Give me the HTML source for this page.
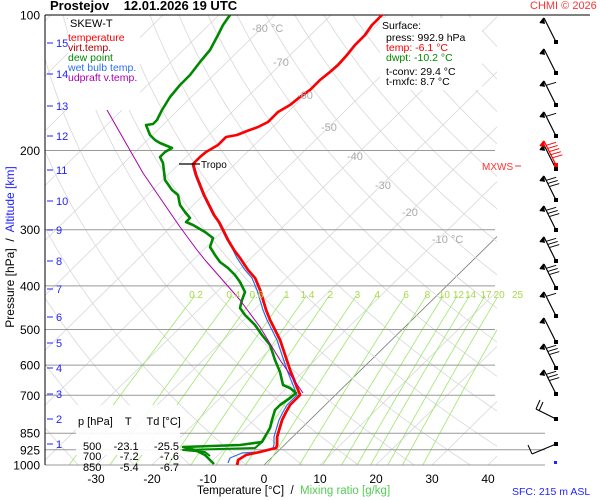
<!DOCTYPE html>
<html><head><meta charset="utf-8">
<style>
html,body{margin:0;padding:0;background:#fff;}
svg{display:block;font-family:"Liberation Sans",sans-serif;}
</style></head>
<body>
<svg id="s" width="600" height="500" viewBox="0 0 600 500" xmlns="http://www.w3.org/2000/svg">
<rect width="600" height="500" fill="#fff"/>
<defs><clipPath id="pc"><rect x="45" y="15" width="452" height="450"/></clipPath></defs>
<g id="grid" clip-path="url(#pc)"></g>
<g id="hl"></g>
<g id="data"></g>
<g id="txt"></g>
</svg>
<script>
const NS="http://www.w3.org/2000/svg";
const S=1.02;
function Y(p){return 15+450*Math.log10(p/100);}
function X(T,y){return 264+5.6*T+(465-y)*S;}
function el(tag,a,parent,text){const e=document.createElementNS(NS,tag);for(const k in a)e.setAttribute(k,a[k]);if(text!==undefined)e.textContent=text;(parent||document.getElementById('s')).appendChild(e);return e;}
const G=document.getElementById('grid'),H=document.getElementById('hl'),D=document.getElementById('data'),TX=document.getElementById('txt');
for(let T=-160;T<=50;T+=10){
  el('line',{x1:X(T,465),y1:465,x2:X(T,15),y2:15,stroke:T==0?'#777':'#d8d8d8','stroke-width':0.8},G);
}
for(let th=200;th<=520;th+=10){
  let pts=[];for(let p=1000;p>=100;p-=10){const T=th*Math.pow(p/1000,0.286)-273.15;const y=Y(p);pts.push(X(T,y).toFixed(1)+','+y.toFixed(1));}
  el('polyline',{points:pts.join(' '),fill:'none',stroke:'#d8d8d8','stroke-width':0.8},G);
}
const ws=[0.2,0.4,0.6,1,1.4,2,3,4,6,8,10,12,14,17,20,25];
ws.forEach(w=>{let pts=[];for(let p=1000;p>=420;p-=10){const e=w*p/(622+w);const l=Math.log(e/6.112);const T=243.5*l/(17.67-l);const y=Y(p);pts.push(X(T,y).toFixed(1)+','+y.toFixed(1));}
  el('polyline',{points:pts.join(' '),fill:'none',stroke:'#9be86a','stroke-width':0.8},G);
  const e=w*417/(622+w);const l=Math.log(e/6.112);const T=243.5*l/(17.67-l);
  el('text',{x:X(T,294),y:298,fill:'#a8d84a','font-size':10,'text-anchor':'middle'},TX,String(w));
});
[100,200,300,400,500,600,700,850,925,1000].forEach(p=>{const y=Y(p);
  if(p==100){el('line',{x1:45,y1:15,x2:590,y2:15,stroke:'#000','stroke-width':1},H);}
  else el('line',{x1:45,y1:y,x2:(p>=850?545:495),y2:y,stroke:'#999','stroke-width':1},H);
  el('text',{x:40,y:y+4.5,'text-anchor':'end','font-size':12,fill:'#000'},TX,String(p));
});
el('line',{x1:45,y1:15,x2:45,y2:465,stroke:'#000','stroke-width':1},H);
[[15,43],[14,74],[13,106],[12,136],[11,170],[10,201],[9,230],[8,261],[7,289],[6,317],[5,343],[4,368],[3,394],[2,419],[1,444]].forEach(a=>{
  el('line',{x1:47,y1:a[1],x2:53,y2:a[1],stroke:'#22f','stroke-width':1},TX);
  el('text',{x:56,y:a[1]+4,fill:'#22f','font-size':11},TX,String(a[0]));
});
[['-80 °C',252,32],['-70',273,66],['-60',297,99],['-50',321,131],['-40',347,160],['-30',375,189],['-20',402,216],['-10 °C',432,243]].forEach(t=>el('text',{x:t[1],y:t[2],fill:'#aaa','font-size':11},TX,t[0]));
[-30,-20,-10,0,10,20,30,40].forEach(T=>el('text',{x:264+5.6*T,y:483,'text-anchor':'middle','font-size':12},TX,String(T)));
function pl(pts,col,w){el('polyline',{points:pts.map(p=>p.join(',')).join(' '),fill:'none',stroke:col,'stroke-width':w,'stroke-linejoin':'round'},D);}
const red=[[382,15],[372,25],[365,35],[355,45],[347,55],[338,65],[330,72],[320,80],[310,90],[300,97],[290,105],[278,112],[268,122],[258,127],[247,131],[237,135],[226,137],[218,145],[206,152],[200,157],[193,164],[196,175],[200,185],[204,195],[209,205],[214,215],[219,222],[223,230],[228,240],[234,250],[240,258],[248,270],[255,278],[260,290],[263,300],[266,310],[270,320],[275,330],[280,340],[285,355],[290,370],[296,385],[300,395],[295,400],[290,405],[286,412],[282,420],[279,430],[277,437],[277,445],[276,448],[260,452],[246,455],[238,460],[237,465]];
const blue=red.map(p=>p[1]>250?[p[0]-3,p[1]]:[p[0]-1,p[1]]);
blue[blue.length-1]=[228,463];blue[blue.length-2]=[230,458];blue[blue.length-3]=[242,453];
pl(blue,'#2a6ef0',1.2);
pl(red.map(p=>[p[0]+1,p[1]]),'#a00',1);
pl(red,'#f00',2.6);
const dew=[[230,15],[223,25],[218,35],[210,50],[200,62],[190,75],[180,85],[170,97],[162,110],[157,120],[153,124],[146,125],[150,135],[155,140],[160,143],[172,148],[165,152],[160,157],[163,163],[165,180],[172,190],[178,195],[180,205],[185,212],[190,218],[186,222],[193,225],[205,232],[213,238],[210,247],[215,255],[220,262],[228,268],[235,275],[240,282],[245,292],[242,300],[240,308],[245,315],[255,325],[262,335],[270,345],[275,360],[280,372],[283,385],[290,388],[296,393],[290,398],[280,405],[275,410],[272,420],[270,428],[266,435],[262,442],[240,445],[183,447],[195,450],[205,455],[214,464]];
pl(dew,'#080',2.6);
pl([[262,442],[255,448],[183,450],[205,452],[210,456]],'#080',2);
pl([[68,18],[107,110],[143,173],[180,227],[197,250],[205,260],[240,300],[260,327],[280,360],[303,393]],'#a0a',1);
el('line',{x1:179,y1:164,x2:200,y2:164,stroke:'#000','stroke-width':1.2},D);
el('text',{x:201,y:168,'font-size':10},TX,'Tropo');
el('text',{x:482,y:170,'font-size':10,fill:'#f33'},TX,'MXWS');
el('line',{x1:515,y1:166,x2:521,y2:166,stroke:'#f33','stroke-width':1},TX);
function barb(y,col,n){
  const x0=556,x1=544,y1=y-24;
  el('line',{x1:x0,y1:y,x2:x1,y2:y1,stroke:col,'stroke-width':1.2},D);
  el('rect',{x:x0-2,y:y-2,width:4,height:4,fill:col},D);
  el('polygon',{points:`${x1},${y1} ${x1+1},${y1+6} ${x1-4},${y1+5}`,fill:col},D);
  el('line',{x1:x1,y1:y1,x2:x1-4,y2:y1+5,stroke:col,'stroke-width':1.5},D);
  for(let i=0;i<n;i++){const t=0.18+i*0.13;const bx=x1+(x0-x1)*t,by=y1+(y-y1)*t;el('line',{x1:bx,y1:by,x2:bx+10,y2:by-3,stroke:col,'stroke-width':1},D);}
}
[42,73,105,136].forEach((y,i)=>barb(y,'#000',i>=2?1:0));
barb(169,'#000',0);barb(165,'#f00',5);
[200,230,261,288].forEach(y=>barb(y,'#000',3));
barb(316,'#000',1);barb(342,'#000',0);barb(368,'#000',3);barb(394,'#000',3);
el('line',{x1:556,y1:419,x2:536,y2:409,stroke:'#000','stroke-width':1.2},D);el('rect',{x:554,y:417,width:4,height:4,fill:'#000'},D);
el('line',{x1:536,y1:409,x2:540,y2:400,stroke:'#000','stroke-width':1},D);el('line',{x1:539,y1:411,x2:543,y2:402,stroke:'#000','stroke-width':1},D);
el('line',{x1:556,y1:444,x2:532,y2:454,stroke:'#000','stroke-width':1.2},D);el('rect',{x:554,y:442,width:4,height:4,fill:'#000'},D);
el('line',{x1:532,y1:454,x2:528,y2:445,stroke:'#000','stroke-width':1},D);
el('rect',{x:554,y:461,width:3,height:3,fill:'#22f'},D);
</script>
<div style="position:absolute;left:0;top:0;width:600px;height:500px;font-family:'Liberation Sans',sans-serif;pointer-events:none">
<div style="position:absolute;left:50px;top:-2px;font-size:13px;font-weight:bold;white-space:pre">Prostejov    12.01.2026 19 UTC</div>
<div style="position:absolute;left:530px;top:0px;font-size:11px;color:#f33">CHMI © 2026</div>
<div style="position:absolute;left:68px;top:16px;width:72px;height:94px;background:#fff;font-size:10.5px;line-height:10px">
<div style="color:#000;margin:3px 0 4px 2px;font-size:11px">SKEW-T</div>
<div style="color:#f00">temperature</div><div style="color:#a00">virt.temp.</div><div style="color:#080">dew point</div><div style="color:#2a6ef0">wet bulb temp.</div><div style="color:#a0a">udpraft v.temp.</div></div>
<div style="position:absolute;left:380px;top:18px;width:102px;height:72px;background:#fff;font-size:10.5px;line-height:10px">
<div style="margin:3px 0 2px 2px">Surface:</div>
<div style="padding-left:6px">press: 992.9 hPa</div><div style="padding-left:6px;color:#f00">temp: -6.1 °C</div><div style="padding-left:6px;color:#080">dwpt: -10.2 °C</div>
<div style="padding-left:6px;margin-top:4px">t-conv: 29.4 °C</div><div style="padding-left:6px">t-mxfc: 8.7 °C</div></div>
<div style="position:absolute;left:76px;top:405px;width:104px;height:50px;background:rgba(255,255,255,0.9);font-size:11px;line-height:10.5px;white-space:pre">
<div style="margin:1px 0 4px 2px">p [hPa]    T     Td [°C]</div>
<div style="padding-left:7px">500    -23.1     -25.5</div><div style="padding-left:7px">700      -7.2       -7.6</div><div style="padding-left:7px">850      -5.4       -6.7</div></div>
<div style="position:absolute;left:197px;top:485px;font-size:11.5px;white-space:pre">Temperature [°C]  /  <span style="color:#5c5">Mixing ratio [g/kg]</span></div>
<div style="position:absolute;left:512px;top:486px;font-size:10.5px;color:#22f">SFC: 215 m ASL</div>
<div style="position:absolute;left:-120px;top:240px;width:260px;text-align:center;transform:rotate(-90deg);font-size:12px;white-space:pre">Pressure [hPa]  /  <span style="color:#22f">Altitude [km]</span></div>
</div>
</body></html>
